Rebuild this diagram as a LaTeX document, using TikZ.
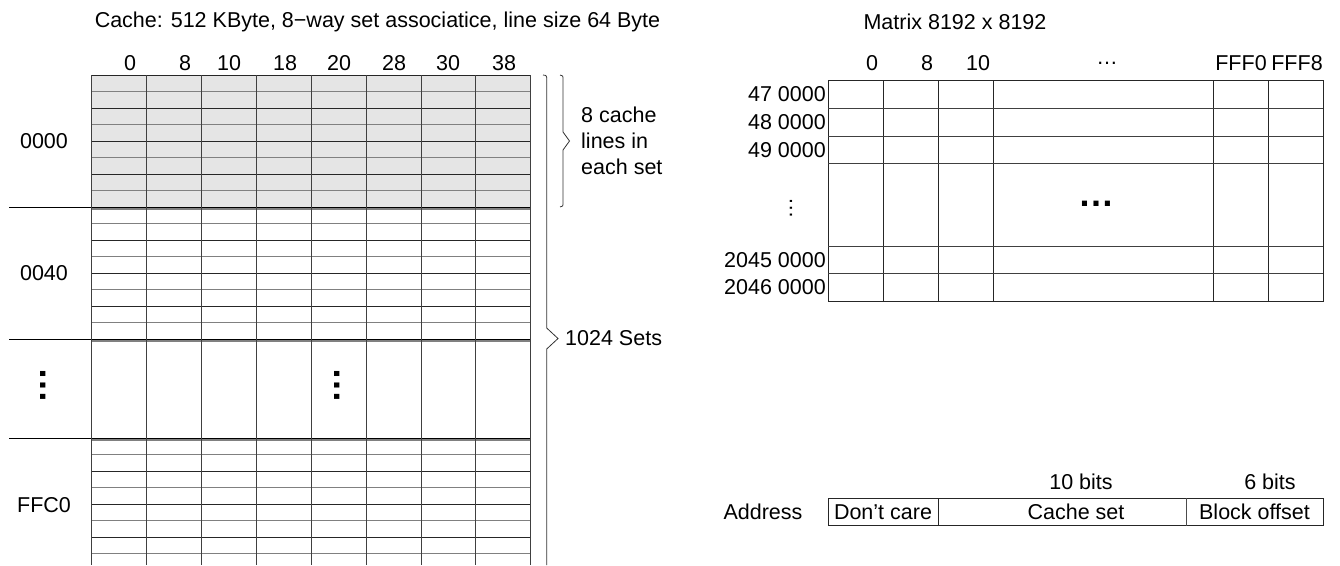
\documentclass[tikz,border=0pt]{standalone}
\usepackage{fontspec}
\setmainfont{Liberation Sans}
\tikzset{
  lbl/.style={inner sep=0pt, font=\fontsize{21.5}{26}\selectfont},
  bigdots/.style={inner sep=0pt, font=\fontsize{36}{36}\selectfont\bfseries},
  smalldots/.style={inner sep=0pt, font=\fontsize{21.5}{26}\selectfont},
  gridline/.style={line width=0.9pt, black!85},
  softline/.style={line width=1.2pt, black!50},
  setline/.style={line width=1pt, black},
  brace/.style={line width=0.8pt, black!80},
}
\begin{document}
\begin{tikzpicture}[x=1pt,y=-1pt]
\useasboundingbox (0,0) rectangle (1340,565);
% ---------- cache ----------
\node[lbl] (ctitle) at (377.5,22) {Cache: 512 KByte, 8\char"2212 way set associatice, line size 64 Byte};
\fill[gray!20] (91.7,75) rectangle (530.7,207);
% row lines in each drawn set
\foreach \s in {75,207,438}{
  \foreach \i in {1,3,5,7}{
    \draw[softline] (91.7,\s+16.5*\i) -- (530.7,\s+16.5*\i);
  }
  \foreach \i in {2,4,6}{
    \draw[gridline] (91.7,\s+16.5*\i) -- (530.7,\s+16.5*\i);
  }
}
\draw[softline] (91.7,438+16.5*8) -- (530.7,438+16.5*8);
\draw[gridline] (91.7,75) -- (530.7,75);
\draw[softline] (91.7,209) -- (530.7,209);
\draw[softline] (91.7,341) -- (530.7,341);
\draw[softline] (91.7,440) -- (530.7,440);
\foreach \y in {207,339,438}{
  \draw[setline] (9,\y) -- (530.7,\y);
}
\foreach \k in {0,...,8}{
  \draw[line width=0.8pt, black!75] (91.7+54.875*\k,75) -- (91.7+54.875*\k,565);
}
% column headers
\node[lbl] (h0) at (130,63) {0};
\node[lbl] (h8) at (185,63) {8};
\node[lbl] (h10) at (229,63) {10};
\node[lbl] (h18) at (285,63) {18};
\node[lbl] (h20) at (339,63) {20};
\node[lbl] (h28) at (394,63) {28};
\node[lbl] (h30) at (448,63) {30};
\node[lbl] (h38) at (504,63) {38};
% set labels
\node[lbl] (s0000) at (44,141) {0000};
\node[lbl] (s0040) at (44,273) {0040};
\node[lbl] (sffc0) at (44,505) {FFC0};
\node[bigdots, rotate=-90] (vd1) at (43,385) {…};
\node[bigdots, rotate=-90] (vd2) at (337,385) {…};
% braces
\draw[brace] (543,75) .. controls (546.7,75.5) .. (546.7,80) -- (546.7,328) -- (558,338.5) -- (546.7,349) -- (546.7,565);
\draw[brace] (560,75) .. controls (563,75.5) .. (563,80) -- (563,132) -- (569.5,141) -- (563,150) -- (563,202) .. controls (563,206.5) .. (560,207);
\node[lbl, anchor=west, align=left] (eight) at (581,141) {8 cache\\lines in\\each set};
\node[lbl, anchor=west] (sets) at (565,338.5) {1024 Sets};
% ---------- matrix ----------
\node[lbl] (mtitle) at (955,22) {Matrix 8192 x 8192};
\draw[line width=0.9pt, black!85] (828,80) rectangle (1323,301);
\foreach \x in {883,938,993,1213,1268}{
  \draw[line width=0.9pt, black!85] (\x,80) -- (\x,301);
}
\foreach \y in {108.3,136,163.3,246,273.3}{
  \draw[line width=0.9pt, black!75] (828,\y) -- (1323,\y);
}
\node[lbl] (m0) at (872,63) {0};
\node[lbl] (m8) at (927,63) {8};
\node[lbl] (m10) at (978,63) {10};
\node[smalldots] (mdots) at (1107,63) {…};
\node[lbl] (mfff0) at (1241,63) {FFF0};
\node[lbl] (mfff8) at (1297,63) {FFF8};
\node[lbl, anchor=east] (r47) at (826,94) {47 0000};
\node[lbl, anchor=east] (r48) at (826,122) {48 0000};
\node[lbl, anchor=east] (r49) at (826,150) {49 0000};
\node[smalldots, rotate=-90] (rdots) at (791,208) {…};
\node[lbl, anchor=east] (r2045) at (826,260) {2045 0000};
\node[lbl, anchor=east] (r2046) at (826,287) {2046 0000};
\node[bigdots] (cdots) at (1096,204) {…};
% ---------- address ----------
\node[lbl, anchor=base] (addr) at (763,519.5) {Address};
\draw[line width=0.9pt, black!85] (828,498) rectangle (1323,525.5);
\draw[line width=0.9pt, black!85] (938,498) -- (938,525.5);
\draw[line width=0.9pt, black!70] (1186,498) -- (1186,525.5);
\node[lbl, anchor=base] (dc) at (883,519.5) {Don’t care};
\node[lbl, anchor=base] (cs) at (1076,519.5) {Cache set};
\node[lbl, anchor=base] (bo) at (1254.5,519.5) {Block offset};
\node[lbl, anchor=base] (b10) at (1081,489.5) {10 bits};
\node[lbl, anchor=base] (b6) at (1270,489.5) {6 bits};
\end{tikzpicture}
\end{document}
